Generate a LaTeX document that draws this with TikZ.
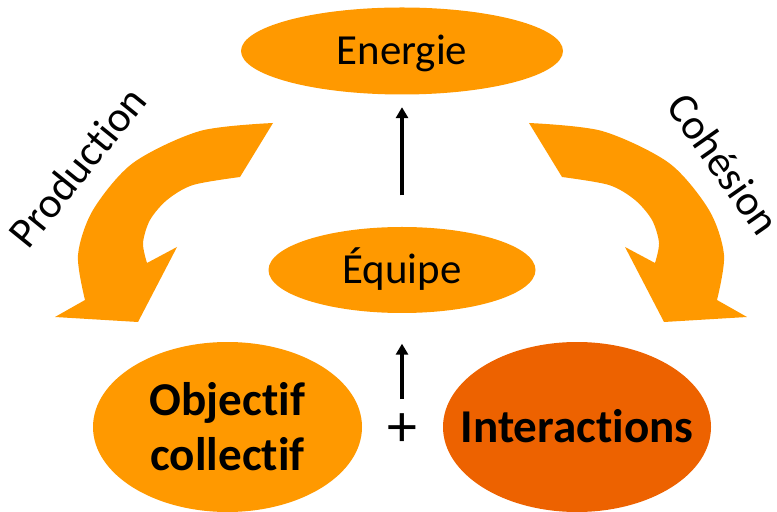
\documentclass[tikz,border=0pt]{standalone}
\usepackage{fontspec}
\setmainfont{Carlito}[Ligatures=NoCommon]
\usetikzlibrary{shapes.geometric,arrows.meta}
\definecolor{lightorange}{RGB}{255,153,0}
\definecolor{darkorange}{RGB}{237,98,0}
\begin{document}
\begin{tikzpicture}[bubble/.style={ellipse,fill=lightorange,inner sep=0pt,font=\fontsize{12.2}{14.6}\selectfont},
	bold/.style={font=\bfseries\fontsize{13.4}{15.7}\selectfont},
	link/.style={-{Triangle[length=3.1pt,width=3.4pt]},line width=0.9pt},
	tag/.style={font=\fontsize{12.2}{14.6}\selectfont,inner sep=0pt}]
	\useasboundingbox (0,0) rectangle (7.77,5.11);
	
	% bent arrows
	\fill[lightorange] plot[smooth] coordinates {(2.73,3.88) (2.00,3.80) (1.33,3.48) (0.93,3.01) (0.78,2.56) (0.85,2.11)}
		-- (0.55,1.94) -- (1.38,1.89) -- (1.77,2.64)
		-- plot[smooth] coordinates {(1.47,2.48) (1.43,2.68) (1.50,2.91) (1.67,3.11) (1.93,3.26) (2.40,3.34)} -- cycle;
	\begin{scope}[xshift=8.02cm,xscale=-1]
	\fill[lightorange] plot[smooth] coordinates {(2.73,3.88) (2.00,3.80) (1.33,3.48) (0.93,3.01) (0.78,2.56) (0.85,2.11)}
		-- (0.55,1.94) -- (1.38,1.89) -- (1.77,2.64)
		-- plot[smooth] coordinates {(1.47,2.48) (1.43,2.68) (1.50,2.91) (1.67,3.11) (1.93,3.26) (2.40,3.34)} -- cycle;
	\end{scope}
	
	\node[bubble,text height=7.85pt,text depth=0pt,minimum width=3.22cm,minimum height=0.87cm] (energie) at (4.02,4.60) {\makebox[0pt]{Energie}};
	\node[bubble,text height=7.85pt,text depth=0pt,minimum width=2.67cm,minimum height=0.86cm] (equipe) at (4.02,2.41) {\makebox[0pt]{Équipe}};
	\node[bubble,bold,align=center,minimum width=2.69cm,minimum height=1.70cm] (objectif) at (2.275,0.84) {Objectif\\collectif};
	\node[bubble,bold,fill=darkorange,text height=8.6pt,text depth=0pt,minimum width=2.68cm,minimum height=1.70cm] (interactions) at (5.77,0.84) {\makebox[0pt]{Interactions}};
	\node[font=\fontsize{17}{20}\selectfont,inner sep=0pt] (plus) at (4.02,0.81) {+};
	\node[tag,rotate=51] (prodlabel) at (0.77,3.44) {Production};
	\node[tag,rotate=-55] (cohlabel) at (7.24,3.47) {Cohésion};
	\coordinate (lowfoot) at (4.02,1.12);
	
	\draw[link,shorten <=0.31cm,shorten >=0.12cm] (equipe) -- (energie);
	\draw[link,shorten >=0.30cm] (lowfoot) -- (equipe);
\end{tikzpicture}
\end{document}
